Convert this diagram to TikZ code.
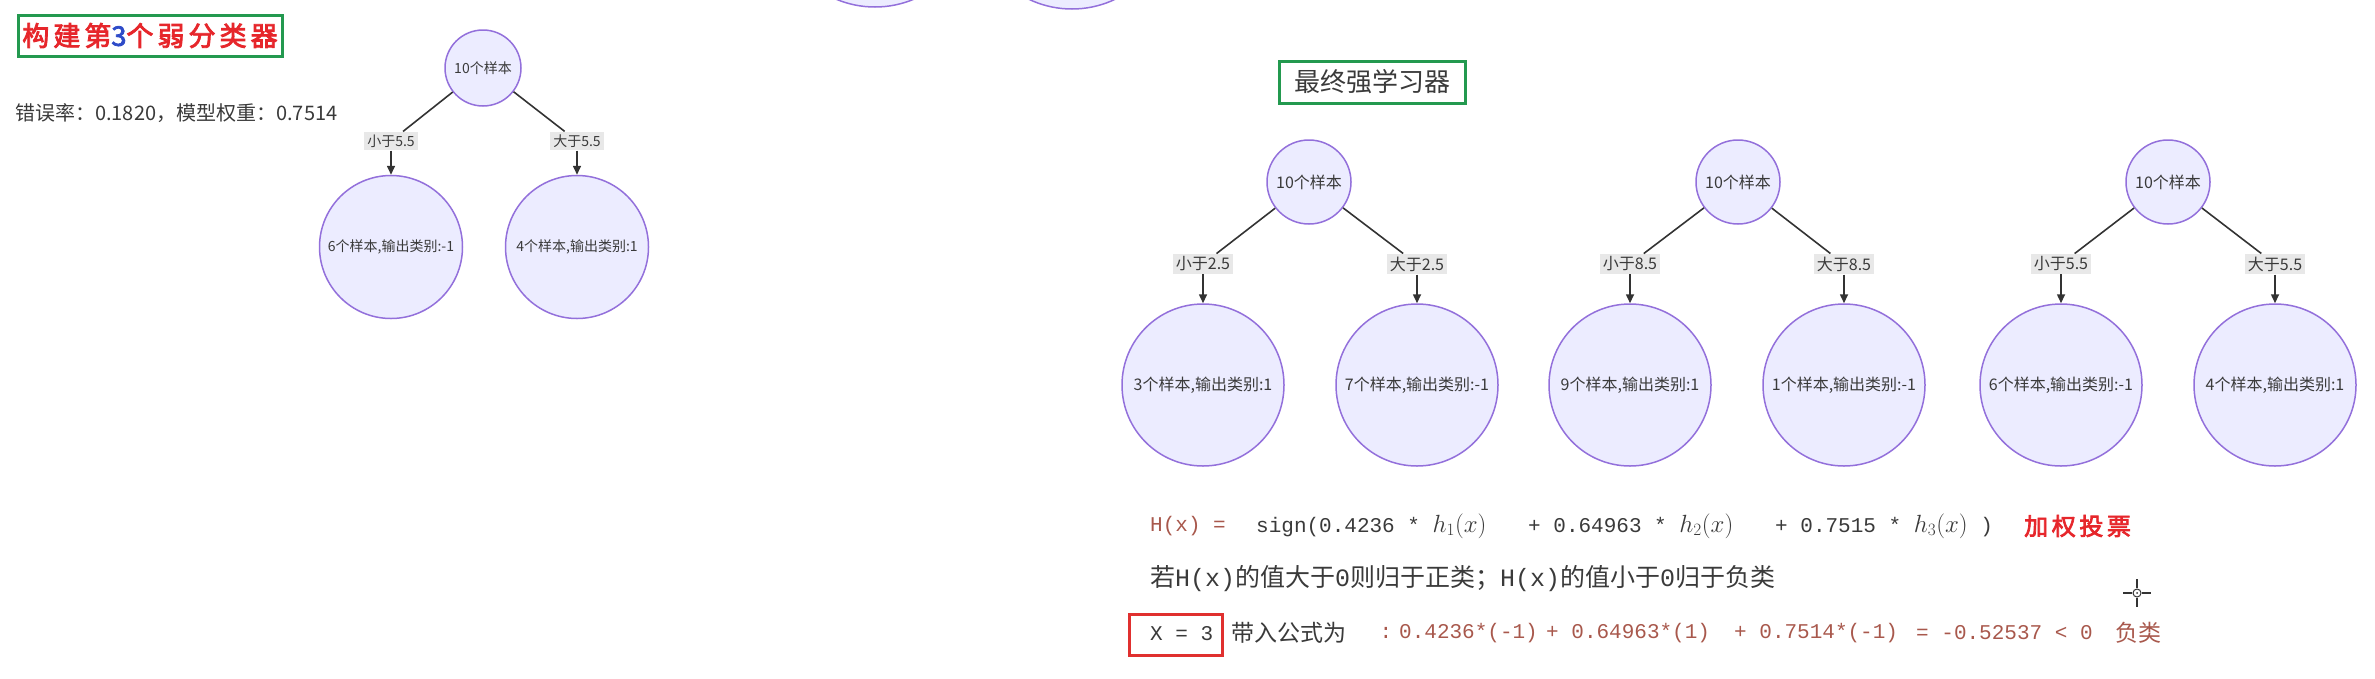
\documentclass[tikz,border=0pt]{standalone}
\usepackage{fontspec}
\setmainfont{Noto Sans CJK SC}
\newfontfamily\monofont{Liberation Mono}
\newfontfamily\heavyfont{Noto Sans CJK SC}[FakeBold=3,LetterSpace=15]
\usetikzlibrary{arrows.meta}

\definecolor{nodefill}{HTML}{ECECFF}
\definecolor{nodeline}{HTML}{9370DB}
\definecolor{edgegray}{HTML}{333333}
\definecolor{labelgray}{HTML}{E8E8E8}
\definecolor{boxgreen}{HTML}{23994F}
\definecolor{boxred}{HTML}{E0302F}
\definecolor{titlered}{HTML}{E6262B}
\definecolor{titleblue}{HTML}{2E4BC8}
\definecolor{formbrown}{HTML}{A8584C}
\definecolor{textgray}{HTML}{3A3A3A}

\newcommand{\bigmath}[1]{{\fontsize{25}{27}\selectfont$#1$}}

\tikzset{
  samplecircle/.style={circle, draw=nodeline, fill=nodefill, line width=1.5pt, inner sep=0pt, text=textgray},
  rootnode/.style={samplecircle, minimum size=84pt, font=\fontsize{16}{18}\selectfont},
  leafnode/.style={samplecircle, minimum size=162pt, font=\fontsize{16}{18}\selectfont},
  rootsmall/.style={samplecircle, minimum size=76pt, font=\fontsize{14}{16}\selectfont},
  leafsmall/.style={samplecircle, minimum size=143pt, font=\fontsize{14}{16}\selectfont},
  cond/.style={fill=labelgray, inner sep=3pt, text=textgray, font=\fontsize{16}{18}\selectfont},
  condsmall/.style={cond, font=\fontsize{14}{16}\selectfont},
  branch/.style={draw=edgegray, line width=1.6pt},
  descend/.style={branch, -{Triangle[length=9pt,width=8pt]}},
  formula/.style={anchor=west, inner sep=0pt, font=\fontsize{21}{23}\monofont},
  heading/.style={draw=boxgreen, line width=3pt, inner sep=0pt},
}

\begin{document}
\begin{tikzpicture}[x=1pt,y=-1pt]
\useasboundingbox (0,0) rectangle (2375,678);
\clip (0,0) rectangle (2375,678);

% leaves of the tree above, cut by the top edge
\draw[nodeline, fill=nodefill, line width=1.5pt] (875,-93) circle[radius=100pt];
\draw[nodeline, fill=nodefill, line width=1.5pt] (1072,-91) circle[radius=100pt];

% third weak classifier
\node[heading, minimum width=264pt, minimum height=41pt] (title) at (150,35.5)
  {\heavyfont\fontsize{27}{29}\selectfont\color{titlered}构建第{\color{titleblue}3}个弱分类器};
\node[anchor=west, inner sep=0pt, text=textgray, font=\fontsize{20}{22}\selectfont] (rate) at (15,113)
  {错误率：0.1820，模型权重：0.7514};

\node[rootsmall] (r0) at (483,68) {10个样本};
\node[condsmall] (c0a) at (391,141) {小于5.5};
\node[condsmall] (c0b) at (577,141) {大于5.5};
\node[leafsmall] (l0a) at (391,247) {6个样本,输出类别:-1};
\node[leafsmall] (l0b) at (577,247) {4个样本,输出类别:1};
\draw[branch] (r0) -- (c0a);
\draw[branch] (r0) -- (c0b);
\draw[descend] (c0a) -- (l0a);
\draw[descend] (c0b) -- (l0b);

% final strong learner
\node[heading, minimum width=186pt, minimum height=42pt, text=textgray, font=\fontsize{26}{28}\selectfont] (final) at (1372,82) {最终强学习器};

\node[rootnode] (r1) at (1309,182) {10个样本};
\node[cond] (c1a) at (1203,264) {小于2.5};
\node[cond] (c1b) at (1417,264) {大于2.5};
\node[leafnode] (l1a) at (1203,385) {3个样本,输出类别:1};
\node[leafnode] (l1b) at (1417,385) {7个样本,输出类别:-1};
\draw[branch] (r1) -- (c1a);
\draw[branch] (r1) -- (c1b);
\draw[descend] (c1a) -- (l1a);
\draw[descend] (c1b) -- (l1b);

\node[rootnode] (r2) at (1738,182) {10个样本};
\node[cond] (c2a) at (1630,264) {小于8.5};
\node[cond] (c2b) at (1844,264) {大于8.5};
\node[leafnode] (l2a) at (1630,385) {9个样本,输出类别:1};
\node[leafnode] (l2b) at (1844,385) {1个样本,输出类别:-1};
\draw[branch] (r2) -- (c2a);
\draw[branch] (r2) -- (c2b);
\draw[descend] (c2a) -- (l2a);
\draw[descend] (c2b) -- (l2b);

\node[rootnode] (r3) at (2168,182) {10个样本};
\node[cond] (c3a) at (2061,264) {小于5.5};
\node[cond] (c3b) at (2275,264) {大于5.5};
\node[leafnode] (l3a) at (2061,385) {6个样本,输出类别:-1};
\node[leafnode] (l3b) at (2275,385) {4个样本,输出类别:1};
\draw[branch] (r3) -- (c3a);
\draw[branch] (r3) -- (c3b);
\draw[descend] (c3a) -- (l3a);
\draw[descend] (c3b) -- (l3b);

% weighted vote
\node[formula, text=formbrown] (Hx) at (1150,526) {H(x) =};
\node[formula, text=textgray] (s1) at (1256,526) {sign(0.4236 * \bigmath{h_1(x)}};
\node[formula, text=textgray] (s2) at (1528,526) {+ 0.64963 * \bigmath{h_2(x)}};
\node[formula, text=textgray] (s3) at (1775,526) {+ 0.7515 * \bigmath{h_3(x)} )};
\node[anchor=west, inner sep=0pt, text=titlered, font=\heavyfont\fontsize{24}{26}\selectfont] (vote) at (2024,526) {加权投票};

\node[anchor=west, inner sep=0pt, text=textgray, font=\fontsize{25}{27}\selectfont] (rule) at (1150,579)
  {若{\monofont H(x)}的值大于{\monofont 0}则归于正类；{\monofont H(x)}的值小于{\monofont 0}归于负类};

\node[draw=boxred, line width=3pt, minimum width=93pt, minimum height=41pt] (xbox) at (1175.5,634.5) {};
\node[formula, text=textgray] (xval) at (1150,634) {X = 3};
\node[anchor=west, inner sep=0pt, text=textgray, font=\fontsize{23}{25}\selectfont] (plug) at (1231,633) {带入公式为};
\node[formula, anchor=center, text=formbrown] (colon) at (1386,633) {:};
\node[formula, text=formbrown] (e1) at (1399,633) {0.4236*(-1)};
\node[formula, text=formbrown] (e2) at (1546,633) {+ 0.64963*(1)};
\node[formula, text=formbrown] (e3) at (1734,633) {+ 0.7514*(-1)};
\node[formula, text=formbrown] (e4) at (1916,633) {= -0.52537 < 0};
\node[anchor=west, inner sep=0pt, text=formbrown, font=\fontsize{23}{25}\selectfont] (neg) at (2115,633) {负类};

% cursor
\coordinate (cur) at (2137,593);
\draw[edgegray, line width=1.5pt] (cur) ++(-14,0) --++(9,0);
\draw[edgegray, line width=1.5pt] (cur) ++(5,0) --++(9,0);
\draw[edgegray, line width=1.5pt] (cur) ++(0,-14) --++(0,9);
\draw[edgegray, line width=1.5pt] (cur) ++(0,5) --++(0,9);
\draw[edgegray, line width=1pt] (cur) circle[radius=4pt];
\fill[edgegray] (cur) circle[radius=1pt];

\end{tikzpicture}
\end{document}
